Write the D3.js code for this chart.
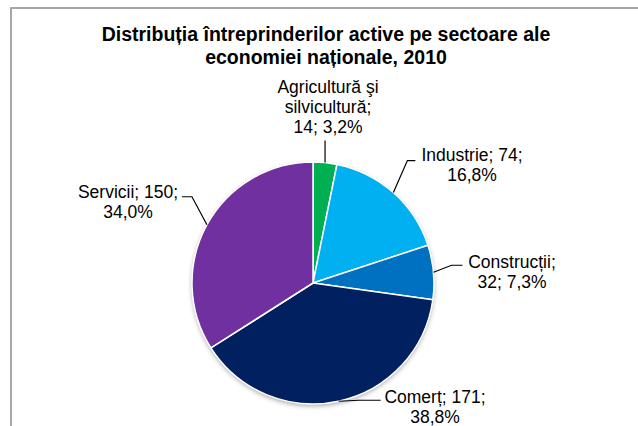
<!DOCTYPE html>
<html>
<head>
<meta charset="utf-8">
<script src="https://cdn.jsdelivr.net/npm/d3@7.9.0/dist/d3.min.js"></script>
<style>
  body { margin: 0; background: #fff; }
  svg text { font-family: "Liberation Sans", Arial, sans-serif; fill: #000; }
</style>
</head>
<body>
<svg id="chart" width="638" height="426"></svg>
<script>
// data
const sectors = ['Agricultură şi silvicultură', 'Industrie', 'Construcții', 'Comerț', 'Servicii'];
const counts = [14, 74, 32, 171, 150];
const percents = ['3,2%', '16,8%', '7,3%', '38,8%', '34,0%'];
const sliceColors = ['#00b050', '#00b0f0', '#0070c0', '#002060', '#7030a0'];

// label lines, split like in the original
const labelLines = [
  ['Agricultură şi', 'silvicultură;', '14; 3,2%'],
  ['Industrie; 74;', '16,8%'],
  ['Construcții;', '32; 7,3%'],
  ['Comerț; 171;', '38,8%'],
  ['Servicii; 150;', '34,0%']
];

const svg = d3.select('#chart');
const cx = 313, cy = 283, r = 121;

// frame
svg.append('rect')
  .attr('x', 11).attr('y', 8)
  .attr('width', 700).attr('height', 500)
  .attr('fill', 'none')
  .attr('stroke', '#a6a6a6')
  .attr('stroke-width', 2);

// title
const title = svg.append('text')
  .attr('text-anchor', 'middle')
  .attr('font-size', 19.5)
  .attr('font-weight', 'bold');
title.append('tspan').attr('x', 326).attr('y', 41).text('Distribuția întreprinderilor active pe sectoare ale');
title.append('tspan').attr('x', 326).attr('y', 64).text('economiei naționale, 2010');

// soft shadow
const defs = svg.append('defs');
const f = defs.append('filter').attr('id', 'shadow')
  .attr('x', '-20%').attr('y', '-20%').attr('width', '140%').attr('height', '140%');
f.append('feGaussianBlur').attr('in', 'SourceAlpha').attr('stdDeviation', 2.5);
f.append('feOffset').attr('dx', 0).attr('dy', 2).attr('result', 'b');
f.append('feComponentTransfer').append('feFuncA').attr('type', 'linear').attr('slope', 0.35);
const m = f.append('feMerge');
m.append('feMergeNode');
m.append('feMergeNode').attr('in', 'SourceGraphic');

const pie = d3.pie().sort(null).value(d => d);
const arcs = pie(counts);
const arcGen = d3.arc().innerRadius(0).outerRadius(r);

const g = svg.append('g').attr('transform', `translate(${cx},${cy})`);
g.append('circle').attr('r', r).attr('fill', '#fff').attr('filter', 'url(#shadow)');
g.selectAll('path')
  .data(arcs)
  .join('path')
  .attr('d', arcGen)
  .attr('fill', (d, i) => sliceColors[i])
  .attr('stroke', '#fff')
  .attr('stroke-width', 1.5)
  .attr('stroke-linejoin', 'round');

// rim point at the middle of a slice
function rim(d) {
  const a = (d.startAngle + d.endAngle) / 2;
  return [cx + r * Math.sin(a), cy - r * Math.cos(a)];
}

// leader line bends and label anchors, per slice
const leaders = [
  { bend: [0, -22], end: [0, -22], tx: 328, ty: 93 },
  { bend: [14, -32], end: [22, -32], tx: 472, ty: 161 },
  { bend: [18, -7], end: [29, -7], tx: 512, ty: 268 },
  { bend: [20, -1], end: [42, -1], tx: 435, ty: 403 },
  { bend: [-15, -28], end: [-25, -28], tx: 128, ty: 198 }
];

arcs.forEach((d, i) => {
  const [x0, y0] = rim(d);
  const L = leaders[i];
  svg.append('polyline')
    .attr('points', [[x0, y0], [x0 + L.bend[0], y0 + L.bend[1]], [x0 + L.end[0], y0 + L.end[1]]].join(' '))
    .attr('fill', 'none')
    .attr('stroke', '#000')
    .attr('stroke-width', 1.2);
  const t = svg.append('text')
    .attr('text-anchor', 'middle')
    .attr('font-size', 17.5);
  labelLines[i].forEach((line, k) => {
    t.append('tspan').attr('x', L.tx).attr('y', L.ty + k * 19.8).text(line);
  });
});
</script>
</body>
</html>
